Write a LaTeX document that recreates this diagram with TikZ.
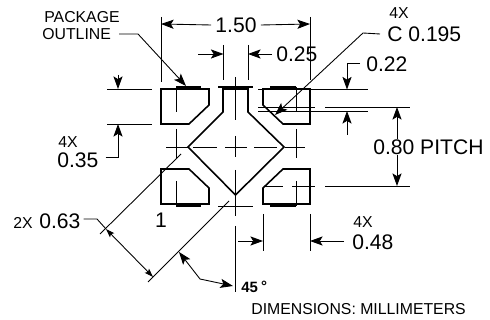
\documentclass[tikz,border=0pt]{standalone}
\usepackage{fontspec}
\setmainfont{Liberation Sans}
\usetikzlibrary{arrows.meta}
\tikzset{
  pad/.style={line width=0.9pt,line join=miter},
  dim/.style={line width=0.5pt},
  ctr/.style={line width=0.5pt},
  edgebar/.style={line width=0.8pt},
  bigtxt/.style={inner sep=0pt,font=\fontsize{12}{14}\selectfont},
  midtxt/.style={inner sep=0pt,font=\fontsize{9}{11}\selectfont},
  smalltxt/.style={inner sep=0pt,font=\fontsize{9}{10}\selectfont}
}
\begin{document}
\begin{tikzpicture}[%
       x=0.02cm,y=-0.02cm,
       >={Stealth[length=7.2pt,width=5.2pt,inset=1.6pt]}
     ]
     \useasboundingbox (0,0) rectangle (490,320);

     % package outline
     \draw[pad] (161,89) -- (209,89) -- (209,105) -- (189,124) -- (161,124) -- cycle;
     \draw[pad] (263,89) -- (310,89) -- (310,124) -- (283,124) -- (263,105) -- cycle;
     \draw[pad] (161,169) -- (189,169) -- (209,188) -- (209,204) -- (161,204) -- cycle;
     \draw[pad] (283,169) -- (310,169) -- (310,204) -- (263,204) -- (263,188) -- cycle;
     \draw[pad] (223,89) -- (248,89) -- (248,112) -- (284,147) -- (235.5,195) -- (188,147) -- (223,112) -- cycle;

     % bars on the edges
     \draw[edgebar] (176,87) -- (201,87);
     \draw[edgebar] (218,87) -- (253,87);
     \draw[edgebar] (270,87) -- (296,87);
     \draw[edgebar] (176,206) -- (201,206);
     \draw[edgebar] (270,206) -- (296,206);
     \draw[dim] (218,206) -- (253,206);

     % centre lines
     \foreach \a/\b in {77/120,136/157,170/216} \draw[ctr] (235.5,\a) -- (235.5,\b);
     \foreach \a/\b in {87/112,129/158,181/206} {
       \draw[ctr] (176,\a) -- (176,\b);
       \draw[ctr] (296,\a) -- (296,\b);
     }
     \foreach \a/\b in {166/188,193/217,225/247,254/277,285/305} \draw[ctr] (\a,147) -- (\b,147);
     \foreach \a/\b in {264/283,292/315,325/410} \draw[ctr] (\a,186) -- (\b,186);
     \draw[ctr] (258,107) -- (315,107);
     \draw[ctr] (325,107) -- (410,107);

     % extension lines
     \draw[dim] (161,17) -- (161,82);
     \draw[dim] (310,17) -- (310,80);
     \draw[dim] (223.5,45) -- (223.5,80);
     \draw[dim] (248,45) -- (248,80);
     \draw[dim] (107,89) -- (152,89);
     \draw[dim] (107,124) -- (152,124);
     \draw[dim] (258,89.5) -- (368,89.5);
     \draw[dim] (258,111) -- (368,111);
     \draw[dim] (263,214) -- (263,251);
     \draw[dim] (310,214) -- (310,251);
     \draw[dim] (235.5,226) -- (235.5,292);
     \draw[dim] (100,234) -- (181,154);
     \draw[dim] (148,282) -- (229,201);

     % labels
     \node[smalltxt,anchor=west] (outline1) at (44,17) {PACKAGE};
     \node[smalltxt,anchor=west] (outline2) at (42,34) {OUTLINE};
     \node[bigtxt] (width) at (236,25) {1.50};
     \node[bigtxt,anchor=west] (lead) at (276,54) {0.25};
     \node[midtxt] (cham4x) at (399,13) {4X};
     \node[bigtxt,anchor=west] (cham) at (387,34) {C 0.195};
     \node[bigtxt,anchor=west] (gap) at (366,64) {0.22};
     \node[bigtxt,anchor=west] (pitch) at (373,147) {0.80 PITCH};
     \node[midtxt] (pad4x) at (68,142) {4X};
     \node[bigtxt,anchor=west] (padh) at (57,160) {0.35};
     \node[midtxt] (foot4x) at (363,222) {4X};
     \node[bigtxt,anchor=west] (padw) at (352,242) {0.48};
     \node[midtxt,anchor=west] (diag2x) at (13,223) {2X};
     \node[bigtxt,anchor=west] (diag) at (39,221) {0.63};
     \node[bigtxt] (one) at (161,220) {1};
     \node[midtxt,anchor=west,font=\fontsize{8.5}{10}\selectfont\bfseries] (angle) at (241,287) {45};
     \node[midtxt,font=\fontsize{8.5}{10}\selectfont\bfseries] (deg) at (264,286) {°};
     \node[midtxt,anchor=west] (units) at (251,309) {DIMENSIONS: MILLIMETERS};

     % arrows and leaders
     \draw[dim,->] (width.west)++(-4,0) -- (161,24);
     \draw[dim,->] (width.east)++(4,0) -- (310,24);
     \draw[dim,->] (198,54) -- (223.5,54);
     \draw[dim,->] (lead.west)++(-4,0) -- (248,54);
     \draw[dim,->] (outline2.east)++(8,0) -- (138,34) -- (186,86);
     \draw[dim,->] (cham.west)++(-7,0) -- (363,33) -- (275,115);
     \draw[dim,->] (gap.west)++(-6,-1) -- (347,63) -- (347,89.5);
     \draw[dim,->] (347,135) -- (347,111);
     \draw[dim,->] (pitch.north west)++(24,0) -- (397,107);
     \draw[dim,->] (pitch.south west)++(24,0) -- (397,186);
     \draw[dim,->] (118,75) -- (118,89);
     \draw[dim,->] (padh.east)++(7,-3) -- (118,157) -- (118,124);
     \draw[dim,->] (238,241) -- (263,241);
     \draw[dim,->] (padw.west)++(-8,-1) -- (310,241);
     \draw[dim] (diag.east)++(3,-2) -- (97,219) -- (106,229);
     \draw[dim,{Stealth[length=5pt,width=3.4pt,inset=1pt]}-{Stealth[length=5pt,width=3.4pt,inset=1pt]}] (106,229) -- (153,277);
     \draw[dim,<->] (179,252) -- (200,279) -- (233,286);
\end{tikzpicture}
\end{document}
